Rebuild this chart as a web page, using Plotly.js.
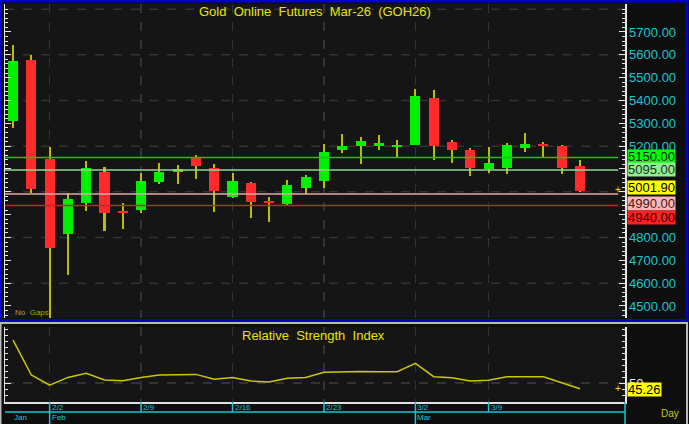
<!DOCTYPE html>
<html><head><meta charset="utf-8">
<script src="https://cdn.plot.ly/plotly-3.0.1.min.js"></script>
<style>html,body{margin:0;padding:0;background:#0e0e0e;overflow:hidden}#chart{width:689px;height:424px;}</style>
</head><body><div id="chart"></div>
<script>
// ---- data ----
const dates = ['1/29','1/30','2/2','2/3','2/4','2/5','2/6','2/9','2/10','2/11','2/12','2/13','2/16','2/17','2/18','2/19','2/20','2/23','2/24','2/25','2/26','2/27','3/2','3/3','3/4','3/5','3/9','3/10','3/11','3/12','3/13','3/16'];
const openP  = [5310,5576,5144,4817,4952,5085,4914,4920,5044,5088,5149,5103,4977,5040,4960,4945,5018,5049,5182,5202,5201,5196,5205,5412,5217,5183,5100,5106,5193,5209,5201,5113];
const highP  = [5643,5599,5196,4996,5135,5109,4950,5084,5125,5117,5161,5120,5082,5042,4976,5052,5074,5208,5252,5240,5249,5228,5449,5446,5228,5192,5196,5213,5258,5218,5205,5139];
const lowP   = [5280,4994,4420,4636,4917,4828,4836,4909,5033,5036,5056,4913,4973,4887,4869,4943,4992,5015,5169,5120,5185,5151,5203,5141,5128,5069,5081,5077,5176,5153,5077,5001];
const closeP = [5573,5014,4753,4969,5104,4909,4906,5047,5087,5099,5113,5005,5047,4957,4950,5031,5064,5174,5201,5223,5215,5205,5420,5201,5185,5106,5125,5204,5209,5202,5106,5001.9];
const rsi    = [85.8,56.7,48.3,54.7,58.1,52.5,51.9,54.7,56.7,57.2,57.2,53.1,54.7,51.7,50.8,53.9,54.7,58.9,59.4,59.7,59.4,59.4,66.4,55.3,54.4,51.7,52.3,55.3,55.3,55.3,50.3,45.26];
const levelVals = [5150, 5095, 4990, 4940];
const priceTicks = [4500,4600,4700,4800,4900,5000,5100,5200,5300,5400,5500,5600,5700];
const hiddenTicks = [4900,5000,5100];
const gridVals = [4600,4800,5000,5200,5400,5600,5800];
const weekTicks = ['2/2','2/9','2/16','2/23','3/2','3/9'];
const monthLabels = ['Jan','Feb','Mar'];
const monthStarts = ['1/29','2/2','3/2'];
const title = 'Gold\u00a0 Online\u00a0 Futures\u00a0 Mar-26\u00a0 (GOH26)';
const rsiTitle = 'Relative\u00a0 Strength\u00a0 Index';

// ---- styles ----
const UP = '#00f000', DOWN = '#ff2a2a', WICK = '#bcbc00', CYAN = '#14c8d2', YEL = '#e6e600';
const levelStyle = [
  {line:'#20c020', bg:'#00ff00', fg:'#102010', shift:1.5},
  {line:'#90d890', bg:'#90ee90', fg:'#203020', shift:1},
  {line:'#e0a8a8', bg:'#ffb4b4', fg:'#402020', shift:-9},
  {line:'#c02828', bg:'#ff2020', fg:'#300000', shift:-11.5}
];
const FONT = 'Arial, "Liberation Sans", sans-serif';
const BOXH = 13;

const idx = dates.map((d,i)=>i);
const last = closeP.length-1;
const bodyBase = openP.map((o,i)=>Math.min(o,closeP[i]));
const bodyH = openP.map((o,i)=>Math.abs(closeP[i]-o));
const bodyCol = openP.map((o,i)=>closeP[i]>=o?UP:DOWN);
const wickH = highP.map((h,i)=>h-lowP[i]);
const weekIdx = weekTicks.map(t=>dates.indexOf(t));
const monthIdx = monthStarts.map(t=>dates.indexOf(t));

const xr = [-0.44, 33.46];
const yr = [4447.3, 5822.6];
const rr = [34.2, 96.7];

const traces = [
  {type:'bar', x:idx, y:wickH, base:lowP, width:0.11, marker:{color:WICK, line:{width:0}}, xaxis:'x', yaxis:'y', hoverinfo:'skip'},
  {type:'bar', x:idx, y:bodyH, base:bodyBase, width:0.55, marker:{color:bodyCol, line:{width:0}}, xaxis:'x', yaxis:'y', hoverinfo:'skip'},
  {type:'scatter', mode:'lines', x:idx, y:rsi, line:{color:'#c8c800', width:1.5}, xaxis:'x2', yaxis:'y2', hoverinfo:'skip'}
];

const gridCol = '#333333';
const shapes = [];
gridVals.forEach(v=>shapes.push({type:'line', layer:'below', xref:'paper', x0:0, x1:1, yref:'y', y0:v, y1:v, line:{color:gridCol, width:1.5, dash:'dash'}}));
levelVals.forEach((v,i)=>shapes.push({type:'line', layer:'above', xref:'paper', x0:0, x1:0.989, yref:'y', y0:v, y1:v, line:{color:levelStyle[i].line, width:1.5}}));
// frames
shapes.push({type:'rect', xref:'paper', yref:'paper', x0:-4.5/620, x1:(687-5)/620, y0:(402-320.5)/398, y1:(402-1)/398, line:{color:'#0000c8', width:3}, fillcolor:'rgba(0,0,0,0)', layer:'above'});
shapes.push({type:'rect', xref:'paper', yref:'paper', x0:-4.5/620, x1:(687-5)/620, y0:(402-440)/398, y1:(402-323)/398, line:{color:'#b8b8b8', width:2}, fillcolor:'rgba(0,0,0,0)', layer:'above'});
// date bar
const yCy = (402-412)/398, yBot = (402-430)/398;
shapes.push({type:'line', xref:'paper', yref:'paper', x0:0, x1:1, y0:yCy, y1:yCy, line:{color:CYAN, width:1.5}});
shapes.push({type:'line', xref:'paper', yref:'paper', x0:1, x1:1, y0:0, y1:yBot, line:{color:CYAN, width:1.5}});
weekIdx.forEach(i=>{
  const isMonth = monthIdx.indexOf(i)>=0;
  shapes.push({type:'line', xref:'x2', yref:'paper', x0:i, x1:i, y0:0, y1:isMonth?yBot:yCy, line:{color:CYAN, width:1.5}});
});

function box(text, yref, y, yshift, bg, fg){
  return {text:text, xref:'paper', yref:yref, x:1, y:y, yshift:yshift, xanchor:'left', yanchor:'middle', xshift:2, height:BOXH,
    showarrow:false, bgcolor:bg, borderpad:0, font:{family:FONT, size:13, color:fg}};
}
const annotations = [
  {text:title, xref:'paper', yref:'paper', x:0.5, y:1, yanchor:'top', xanchor:'center', yshift:2, showarrow:false, font:{family:FONT, size:13, color:YEL}},
  {text:rsiTitle, xref:'paper', yref:'paper', x:0.497, y:(402-327)/398, yanchor:'top', xanchor:'center', yshift:1, showarrow:false, font:{family:FONT, size:13, color:YEL}},
  {text:'No\u00a0 Gaps', xref:'paper', yref:'paper', x:(13-5)/620, y:(402-319)/398, xanchor:'left', yanchor:'bottom', showarrow:false, font:{family:FONT, size:8, color:'#a8a800'}},
  {text:'Day', xref:'paper', yref:'paper', x:(659-5)/620, y:(402-413)/398, xanchor:'left', yanchor:'middle', showarrow:false, font:{family:FONT, size:10, color:'#c8c800'}},
  {text:'+', xref:'paper', yref:'y', x:(618-5)/620, y:closeP[last], xanchor:'center', yanchor:'middle', yshift:2, showarrow:false, font:{family:FONT, size:10, color:YEL}},
  {text:'+', xref:'paper', yref:'y2', x:(618-5)/620, y:rsi[last], xanchor:'center', yanchor:'middle', showarrow:false, font:{family:FONT, size:10, color:YEL}},
  box(rsi[last].toFixed(2), 'y2', rsi[last], -0.5, '#ffff00', '#000')
];
[0,1].forEach(i=>annotations.push(box(levelVals[i].toFixed(2), 'y', levelVals[i], levelStyle[i].shift, levelStyle[i].bg, levelStyle[i].fg)));
annotations.push(box(closeP[last].toFixed(2), 'y', closeP[last], 3.5, '#ffff00', '#000'));
[2,3].forEach(i=>annotations.push(box(levelVals[i].toFixed(2), 'y', levelVals[i], levelStyle[i].shift, levelStyle[i].bg, levelStyle[i].fg)));
weekIdx.forEach((i,k)=>annotations.push({text:weekTicks[k], xref:'x2', yref:'paper', x:i, y:(402-407)/398, xanchor:'left', yanchor:'middle', xshift:0, showarrow:false, font:{family:FONT, size:8, color:CYAN}}));
monthIdx.forEach((i,k)=>annotations.push({text:monthLabels[k], xref:'x2', yref:'paper', x:i, y:(402-417)/398, xanchor:'left', yanchor:'middle', xshift:(k===0?-1:0), showarrow:false, font:{family:FONT, size:8, color:CYAN}}));

const layout = {
  width:689, height:424, margin:{l:5, r:64, t:4, b:22},
  paper_bgcolor:'#0e0e0e', plot_bgcolor:'#151515',
  showlegend:false, barmode:'overlay', bargap:0,
  font:{family:FONT},
  xaxis:{domain:[0,1], anchor:'y', range:xr, tickmode:'array', tickvals:weekIdx, showticklabels:false, ticks:'', showgrid:true, gridcolor:gridCol, griddash:'dash', gridwidth:1.5, zeroline:false, showline:false},
  xaxis2:{domain:[0,1], anchor:'y2', matches:'x', range:xr, tickmode:'array', tickvals:weekIdx, showticklabels:false, ticks:'', showgrid:true, gridcolor:gridCol, griddash:'dash', gridwidth:1.5, zeroline:false, showline:true, linecolor:'#e0e0e0', linewidth:1.5},
  yaxis:{domain:[(402-318)/398,1], anchor:'x', side:'right', range:yr, tickmode:'array', tickvals:priceTicks, ticktext:priceTicks.map(v=>hiddenTicks.indexOf(v)>=0?'':v.toFixed(2)),
    ticks:'inside', ticklen:6, tickwidth:1, tickcolor:'#e8e8e8', showline:true, linecolor:'#e8e8e8', linewidth:1.5, mirror:'ticks',
    minor:{tickmode:'linear', tick0:0, dtick:20, ticks:'inside', ticklen:3, tickcolor:'#e8e8e8', showgrid:false},
    showgrid:false, zeroline:false, tickfont:{family:FONT, size:13, color:CYAN}},
  yaxis2:{domain:[0,(402-327)/398], anchor:'x2', side:'right', range:rr, tickmode:'array', tickvals:[50], ticktext:['50'],
    ticks:'inside', ticklen:6, tickwidth:1, tickcolor:'#e8e8e8', showline:true, linecolor:'#e8e8e8', linewidth:1.5, mirror:'ticks',
    minor:{tickmode:'linear', tick0:0, dtick:5, ticks:'inside', ticklen:3, tickcolor:'#e8e8e8', showgrid:false},
    showgrid:true, gridcolor:gridCol, griddash:'dash', gridwidth:1.5, zeroline:false, tickfont:{family:FONT, size:13, color:'#e0e0e0'}},
  shapes:shapes, annotations:annotations
};
Plotly.newPlot('chart', traces, layout, {staticPlot:true, displayModeBar:false});
</script>
</body></html>
